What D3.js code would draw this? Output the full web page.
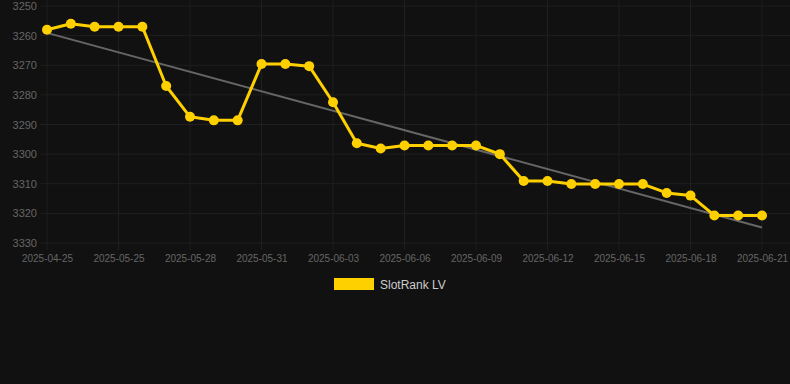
<!DOCTYPE html>
<html>
<head>
<meta charset="utf-8">
<script src="https://cdn.jsdelivr.net/npm/d3@7"></script>
<style>
  html, body { margin:0; padding:0; background:#111111; }
  svg { display:block; font-family:"Liberation Sans", Arial, sans-serif; }
</style>
</head>
<body>
<svg id="chart" width="790" height="384"></svg>
<script>
const dates = [
  "2025-04-25","2025-05-23","2025-05-24","2025-05-25","2025-05-26","2025-05-27",
  "2025-05-28","2025-05-29","2025-05-30","2025-05-31","2025-06-01","2025-06-02",
  "2025-06-03","2025-06-04","2025-06-05","2025-06-06","2025-06-07","2025-06-08",
  "2025-06-09","2025-06-10","2025-06-11","2025-06-12","2025-06-13","2025-06-14",
  "2025-06-15","2025-06-16","2025-06-17","2025-06-18","2025-06-19","2025-06-20",
  "2025-06-21"
];
const ranks = [
  3258, 3256, 3257, 3257, 3257, 3277,
  3287.4, 3288.6, 3288.6, 3269.6, 3269.6, 3270.3,
  3282.5, 3296.3, 3298.1, 3297.1, 3297.1, 3297.1,
  3297.1, 3300, 3309.1, 3309.1, 3310.1, 3310.1,
  3310.1, 3310.1, 3313.1, 3314, 3320.7, 3320.7,
  3320.7
];
const yTicks = [3250, 3260, 3270, 3280, 3290, 3300, 3310, 3320, 3330];
const seriesName = "SlotRank LV";

const W = 790, H = 384;
const gold = "#ffd000";
const svg = d3.select("#chart");

const x = d3.scalePoint().domain(dates).range([47, 762]);
const y = d3.scaleLinear().domain([3250, 3330]).range([6, 243]);

const xTickDates = dates.filter((d, i) => i % 3 === 0);

// grid
const grid = svg.append("g").attr("stroke", "#1f1f1f").attr("stroke-width", 1);
grid.selectAll("line.h").data(yTicks).enter().append("line")
  .attr("x1", 40).attr("x2", W).attr("y1", d => y(d)).attr("y2", d => y(d));
grid.selectAll("line.v").data(xTickDates).enter().append("line")
  .attr("x1", d => x(d)).attr("x2", d => x(d)).attr("y1", 0).attr("y2", 250);

// y axis
const yAxis = svg.append("g").attr("transform", "translate(37,0)")
  .call(d3.axisLeft(y).tickValues(yTicks).tickSize(0).tickPadding(0).tickFormat(d3.format("d")));
yAxis.select(".domain").remove();
yAxis.selectAll("text").attr("fill", "#666").style("font-size", "11px");

// x axis
const xAxis = svg.append("g").attr("transform", "translate(0,251)")
  .call(d3.axisBottom(x).tickValues(xTickDates).tickSize(0).tickPadding(4));
xAxis.select(".domain").remove();
xAxis.selectAll("text").attr("fill", "#666").style("font-size", "10px");

// trend line (least squares on the series)
const idx = ranks.map((v, i) => i);
const n = ranks.length;
const mx = d3.mean(idx), my = d3.mean(ranks);
const slope = d3.sum(idx, i => (i - mx) * (ranks[i] - my)) / d3.sum(idx, i => (i - mx) * (i - mx));
const icpt = my - slope * mx;
svg.append("line")
  .attr("x1", x(dates[0])).attr("y1", y(icpt))
  .attr("x2", x(dates[n - 1])).attr("y2", y(icpt + slope * (n - 1)))
  .attr("stroke", "#666").attr("stroke-width", 2);

// series
const line = d3.line().x((d, i) => x(dates[i])).y(d => y(d));
svg.append("path").datum(ranks)
  .attr("d", line).attr("fill", "none")
  .attr("stroke", gold).attr("stroke-width", 3).attr("stroke-linejoin", "round");
svg.append("g").selectAll("circle").data(ranks).enter().append("circle")
  .attr("cx", (d, i) => x(dates[i])).attr("cy", d => y(d)).attr("r", 5)
  .attr("fill", gold);

// legend
const lg = svg.append("g").attr("transform", "translate(334,278)");
lg.append("rect").attr("width", 40).attr("height", 12).attr("fill", gold);
lg.append("text").attr("x", 46).attr("y", 10.5).attr("fill", "#ccc")
  .style("font-size", "12px").text(seriesName);
</script>
</body>
</html>
